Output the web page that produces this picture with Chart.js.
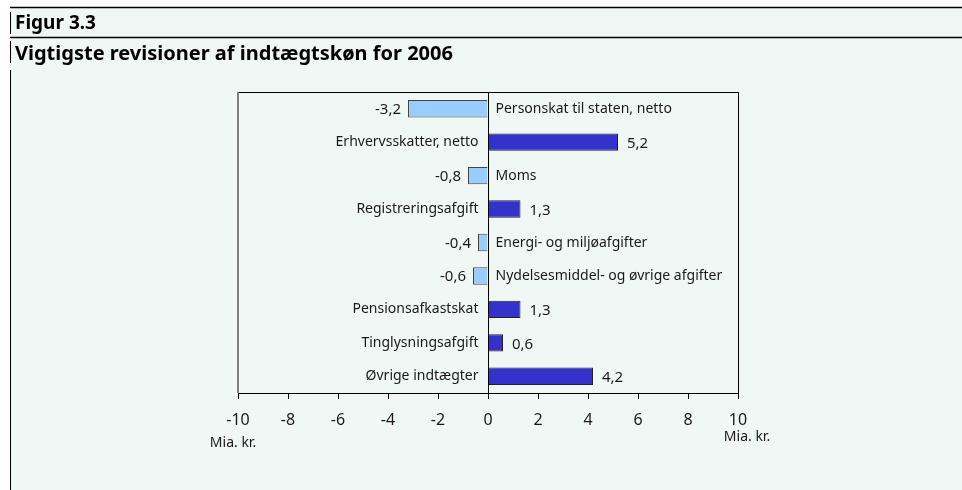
<!DOCTYPE html>
<html>
<head>
<meta charset="utf-8">
<script src="https://cdn.jsdelivr.net/npm/chart.js@4"></script>
<style>
  html, body { margin: 0; padding: 0; background: #ffffff; }
  #revChart { display: block; }
</style>
</head>
<body>
<canvas id="revChart" width="962" height="490"></canvas>
<script>
// Data (mia. kr.)
const categories = [
    'Personskat til staten, netto',
    'Erhvervsskatter, netto',
    'Moms',
    'Registreringsafgift',
    'Energi- og miljøafgifter',
    'Nydelsesmiddel- og øvrige afgifter',
    'Pensionsafkastskat',
    'Tinglysningsafgift',
    'Øvrige indtægter'
];
const revisions = [-3.2, 5.2, -0.8, 1.3, -0.4, -0.6, 1.3, 0.6, 4.2];
const axisMin = -10;
const axisMax = 10;
const axisStep = 2;

const figureNo = 'Figur 3.3';
const figureTitle = 'Vigtigste revisioner af indtægtskøn for 2006';
const unitLabel = 'Mia. kr.';

const FONT = '"Noto Sans", "DejaVu Sans", sans-serif';
const INK = '#1a1a1a';

function fmt(v) {
    return v.toFixed(1).replace('.', ',');
}

// frame, background and titles
const framePlugin = {
    id: 'frame',
    beforeDraw(chart) {
        const ctx = chart.ctx;
        ctx.save();
        ctx.fillStyle = '#f0f8f5';
        ctx.fillRect(11, 8, chart.width - 11, chart.height - 8);
        ctx.strokeStyle = '#000';
        ctx.lineWidth = 1.5;
        ctx.beginPath();
        ctx.moveTo(10, 7.5); ctx.lineTo(chart.width, 7.5);
        ctx.moveTo(10, 37.5); ctx.lineTo(chart.width, 37.5);
        ctx.stroke();
        ctx.lineWidth = 1;
        ctx.beginPath();
        ctx.moveTo(10.5, 12); ctx.lineTo(10.5, 34);
        ctx.moveTo(10.5, 41); ctx.lineTo(10.5, 63);
        ctx.moveTo(10.5, 70); ctx.lineTo(10.5, chart.height);
        ctx.stroke();

        ctx.fillStyle = '#000';
        ctx.textBaseline = 'alphabetic';
        ctx.textAlign = 'left';
        ctx.font = 'bold 19px ' + FONT;
        ctx.fillText(figureNo, 15, 29);
        ctx.font = 'bold 20px ' + FONT;
        ctx.fillText(figureTitle, 15, 60);

        // plot box
        const a = chart.chartArea;
        ctx.strokeStyle = '#000';
        ctx.lineWidth = 1;
        ctx.beginPath();
        ctx.moveTo(a.left, a.top + 0.5); ctx.lineTo(a.right + 0.5, a.top + 0.5);
        ctx.lineTo(a.right + 0.5, a.bottom);
        ctx.stroke();
        ctx.strokeStyle = '#7f7f7f';
        ctx.lineWidth = 2;
        ctx.beginPath();
        ctx.moveTo(a.left, a.top); ctx.lineTo(a.left, a.bottom);
        ctx.stroke();

        ctx.fillStyle = INK;
        ctx.font = '14px ' + FONT;
        ctx.textAlign = 'center';
        ctx.textBaseline = 'middle';
        ctx.fillText(unitLabel, 233, 443);
        ctx.fillText(unitLabel, 747, 437);
        ctx.restore();
    },
    afterDatasetsDraw(chart) {
        const ctx = chart.ctx;
        const a = chart.chartArea;
        const zeroX = Math.round(chart.scales.x.getPixelForValue(0)) + 0.5;
        ctx.save();
        ctx.strokeStyle = '#000';
        ctx.lineWidth = 1;
        ctx.beginPath();
        ctx.moveTo(zeroX, a.top);
        ctx.lineTo(zeroX, a.bottom);
        ctx.stroke();

        ctx.fillStyle = INK;
        ctx.textBaseline = 'alphabetic';
        const bars = chart.getDatasetMeta(0).data;
        bars.forEach((bar, i) => {
            const v = revisions[i];
            if (v < 0) {
                ctx.font = '15px ' + FONT;
                ctx.textAlign = 'right';
                ctx.fillText(fmt(v), bar.x - 7, bar.y + 5);
                ctx.font = '14px ' + FONT;
                ctx.textAlign = 'left';
                ctx.fillText(categories[i], zeroX + 7, bar.y + 4);
            } else {
                ctx.font = '14px ' + FONT;
                ctx.textAlign = 'right';
                ctx.fillText(categories[i], zeroX - 10, bar.y + 4);
                ctx.font = '15px ' + FONT;
                ctx.textAlign = 'left';
                ctx.fillText(fmt(v), bar.x + 9, bar.y + 6);
            }
        });
        ctx.restore();
    }
};

const ctx = document.getElementById('revChart').getContext('2d');
const chart = new Chart(ctx, {
    type: 'bar',
    data: {
        labels: categories,
        datasets: [{
            data: revisions,
            backgroundColor: revisions.map(v => v < 0 ? '#99ccff' : '#3333cc'),
            borderColor: revisions.map(v => v < 0 ? '#444444' : '#222222'),
            borderWidth: 1,
            barPercentage: 0.52,
            categoryPercentage: 1.0
        }]
    },
    options: {
        indexAxis: 'y',
        responsive: false,
        animation: false,
        layout: {
            padding: { left: 238, right: 224, top: 92, bottom: 0 }
        },
        plugins: {
            legend: { display: false },
            tooltip: { enabled: false }
        },
        scales: {
            x: {
                min: axisMin,
                max: axisMax,
                afterFit: function(scale) {
                    scale.height = 97;
                },
                border: { display: true, color: '#000', width: 1 },
                grid: {
                    display: true,
                    drawOnChartArea: false,
                    drawTicks: true,
                    tickLength: 6,
                    color: '#000'
                },
                ticks: {
                    stepSize: axisStep,
                    padding: 12,
                    color: INK,
                    font: { family: FONT, size: 16 },
                    callback: function(value) {
                        return value;
                    }
                }
            },
            y: {
                display: false
            }
        }
    },
    plugins: [framePlugin]
});
</script>
</body>
</html>
